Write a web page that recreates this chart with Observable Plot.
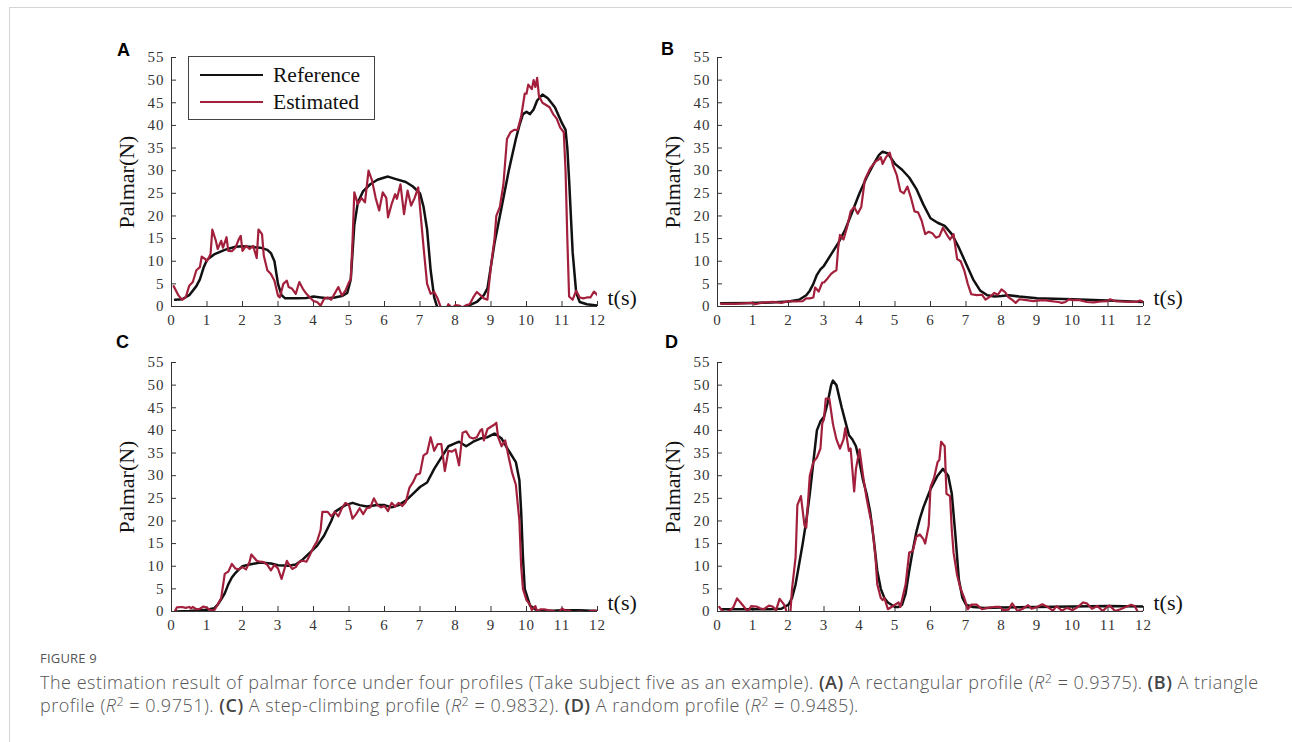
<!DOCTYPE html>
<html>
<head>
<meta charset="utf-8">
<script src="https://cdn.jsdelivr.net/npm/d3@7"></script>
<script src="https://cdn.jsdelivr.net/npm/@observablehq/plot@0.6"></script>
<style>
  body { margin: 0; background: #fff; }
  #fig { position: relative; width: 1292px; height: 742px; overflow: hidden; }
  .frame { position: absolute; left: 9px; top: 7px; right: -4px; bottom: -4px;
    border-top: 1.5px solid #d4d4d4; border-left: 1.5px solid #d4d4d4; }
  .panel { position: absolute; }
  g[aria-label$="tick label"] { letter-spacing: 1px; }
  .legend { position: absolute; left: 188px; top: 56px; width: 185px; height: 62px;
    border: 1px solid #444; background: #fff; font: 21.5px "Liberation Serif", serif; color: #111; }
  .legend .row { position: absolute; left: 11px; height: 26px; display: flex; align-items: center; }
  .legend .sw { width: 63px; height: 2.5px; margin-right: 10px; }
  .cap-head { position: absolute; left: 40px; top: 649px; font: 500 13px "Open Sans", sans-serif; letter-spacing: 0.2px; color: #555; }
  .cap { position: absolute; left: 40px; top: 671px; width: 1250px; font: 300 18px/23px "Open Sans", sans-serif; letter-spacing: 0.5px; color: #555; white-space: nowrap; }
  .cap b { font-weight: 600; color: #444; }
  .cap sup { font-size: 0.7em; line-height: 0; vertical-align: 0.5em; }
</style>
</head>
<body>
<div id="fig">
  <div class="frame"></div>
  <div class="panel" id="pa" style="left:100px;top:40px"></div>
  <div class="panel" id="pb" style="left:646px;top:40px"></div>
  <div class="panel" id="pc" style="left:100px;top:345px"></div>
  <div class="panel" id="pd" style="left:646px;top:345px"></div>
  <div class="legend">
    <div class="row" style="top:5px"><span class="sw" style="background:#111"></span>Reference</div>
    <div class="row" style="top:32px"><span class="sw" style="background:#a3203c"></span>Estimated</div>
  </div>
  <div class="cap-head">FIGURE 9</div>
  <div class="cap">The estimation result of palmar force under four profiles (Take subject five as an example). <b>(A)</b> A rectangular profile (<i>R</i><sup>2</sup> = 0.9375). <b>(B)</b> A triangle<br>profile (<i>R</i><sup>2</sup> = 0.9751). <b>(C)</b> A step-climbing profile (<i>R</i><sup>2</sup> = 0.9832). <b>(D)</b> A random profile (<i>R</i><sup>2</sup> = 0.9485).</div>
</div>
<script>
const xTicks = [0,1,2,3,4,5,6,7,8,9,10,11,12];
const yTicks = [0,5,10,15,20,25,30,35,40,45,50,55];

// [t (s), force (N)]
const refA = [[0.1,1.5],[0.3,1.6],[0.5,2.5],[0.7,4.5],[0.8,6],[0.9,8.5],[1.0,10.3],[1.2,11.5],[1.5,12.5],[1.8,13.2],[2.0,13.3],[2.5,13],[2.7,12.5],[2.8,11.8],[2.9,10],[3.0,5],[3.1,2.5],[3.2,1.8],[3.5,1.8],[3.8,1.9],[4.0,2.2],[4.2,2.0],[4.4,1.8],[4.6,2.0],[4.8,2.3],[4.95,3],[5.05,6],[5.1,12],[5.15,18],[5.25,23],[5.4,25.5],[5.6,27],[5.8,28],[6.0,28.5],[6.1,28.7],[6.3,28.2],[6.6,27.5],[6.8,26.5],[7.0,25],[7.1,22],[7.2,17],[7.3,8],[7.4,2],[7.5,-0.5],[7.8,-1.5],[8.1,-1],[8.3,-0.2],[8.4,0.3],[8.6,1],[8.8,2.5],[8.9,4],[9.0,9],[9.1,14],[9.2,18],[9.3,22],[9.5,30],[9.7,37],[9.8,40],[9.9,42.5],[10.0,43],[10.1,42.5],[10.2,43.5],[10.3,45.5],[10.45,46.8],[10.6,46],[10.8,44],[11.0,40.5],[11.1,39],[11.15,35],[11.2,28],[11.3,12],[11.4,3],[11.5,1],[11.7,0.5],[12.0,0.2]];
const estA = [[0.06,4.5],[0.2,2.4],[0.3,1.5],[0.4,2],[0.5,4.6],[0.6,5.4],[0.7,8],[0.8,8.7],[0.85,11],[0.95,10.5],[1.0,10],[1.1,11.6],[1.15,17],[1.25,14.5],[1.3,12.7],[1.4,14.5],[1.45,13],[1.55,15.3],[1.6,12.3],[1.7,12.2],[1.8,13],[1.9,14.9],[1.95,15.6],[2.0,12.3],[2.1,13.4],[2.2,12.7],[2.3,13.4],[2.4,10.7],[2.45,17],[2.55,16],[2.6,11.2],[2.7,8],[2.8,7.2],[2.9,5.7],[3.0,2.4],[3.05,2],[3.15,5],[3.25,5.7],[3.3,4.3],[3.4,3.9],[3.5,2.8],[3.6,5.4],[3.7,3.9],[3.8,2.8],[3.9,2],[4.0,1.2],[4.1,1],[4.2,0.2],[4.3,1.7],[4.4,2],[4.5,1.5],[4.6,2.9],[4.7,4.3],[4.8,2.4],[4.9,3.5],[5.0,5.4],[5.05,6],[5.1,14.5],[5.15,25.2],[5.25,22.6],[5.35,24],[5.45,23],[5.55,30],[5.65,27.8],[5.75,24],[5.85,21.2],[5.95,25.2],[6.05,24],[6.1,19.7],[6.2,22.6],[6.3,24.8],[6.35,23.8],[6.45,27],[6.55,20.4],[6.65,25.6],[6.75,22.3],[6.85,24],[6.95,26.3],[7.0,21.9],[7.1,13.1],[7.2,5],[7.3,2.8],[7.4,3.2],[7.5,1.7],[7.6,-0.5],[7.7,-1],[7.8,0.5],[7.9,-0.3],[8.0,0.3],[8.1,0.2],[8.2,-0.2],[8.3,0.3],[8.4,0.5],[8.5,2],[8.6,3.2],[8.7,2.5],[8.8,1.8],[8.9,1.5],[9.0,9],[9.1,15],[9.15,20],[9.25,22],[9.35,27],[9.45,37],[9.55,38.5],[9.65,39],[9.75,39],[9.85,42],[9.95,47],[10.0,47],[10.05,49],[10.15,48],[10.2,50],[10.25,48.5],[10.3,50.5],[10.35,46.5],[10.45,45],[10.55,44.5],[10.65,44],[10.75,42.5],[10.85,41.5],[10.95,39.5],[11.05,38.5],[11.1,30],[11.15,15],[11.2,2.2],[11.3,1.5],[11.4,3.5],[11.5,2],[11.6,1.8],[11.7,2],[11.8,2],[11.9,3.3],[12.0,2.5]];

const refB = [[0.1,0.7],[1.0,0.8],[1.5,0.9],[2.0,1.1],[2.3,1.5],[2.5,2.5],[2.6,3.5],[2.7,5],[2.8,7],[2.9,8.2],[3.0,9],[3.2,11.5],[3.4,14],[3.6,17],[3.8,21],[4.0,25],[4.2,28.5],[4.4,31.5],[4.55,33.5],[4.65,34.2],[4.8,33.8],[5.0,31.5],[5.2,30.2],[5.4,28.5],[5.6,26],[5.8,22.5],[6.0,19.5],[6.2,18.5],[6.4,17.8],[6.6,16],[6.8,13],[7.0,9.5],[7.2,6],[7.4,3.5],[7.6,2.5],[7.8,2.2],[8.0,2.3],[8.2,2.5],[8.5,2.2],[9.0,1.8],[10.0,1.6],[11.0,1.3],[12.0,1.0]];
const estB = [[0.1,0.6],[0.5,0.6],[1.0,0.8],[1.05,0.5],[1.3,0.9],[1.6,1.0],[1.8,0.8],[2.0,1.2],[2.2,1.1],[2.4,1.2],[2.5,1.8],[2.6,1.8],[2.7,2.0],[2.75,4.2],[2.85,3.3],[2.95,5.3],[3.0,5.3],[3.1,6.2],[3.2,7.2],[3.3,7.8],[3.35,8.0],[3.4,13],[3.45,15.8],[3.55,14.8],[3.65,17.5],[3.75,21],[3.85,22],[3.95,20.5],[4.05,22],[4.15,28],[4.3,30.5],[4.45,32],[4.55,32.5],[4.6,33],[4.65,31.5],[4.75,33],[4.85,34],[4.95,31],[5.05,29],[5.15,25.5],[5.25,25],[5.35,26.5],[5.45,24],[5.55,21],[5.65,20.8],[5.75,19],[5.85,16],[5.95,16.5],[6.05,16.2],[6.15,15.2],[6.25,15.5],[6.35,17.4],[6.45,16],[6.55,14.8],[6.65,16],[6.75,10.5],[6.85,10],[6.95,8],[7.05,5],[7.15,2.7],[7.3,2.5],[7.45,2.6],[7.55,1.5],[7.7,2.3],[7.8,3],[7.9,2.6],[8.0,3.8],[8.1,3.2],[8.2,2],[8.3,1.5],[8.4,0.8],[8.5,1.6],[8.7,1.4],[8.9,1.2],[9.0,1.3],[9.2,1.4],[9.4,1.2],[9.6,1.0],[9.7,0.8],[9.8,1.0],[9.9,1.6],[10.0,1.4],[10.2,1.4],[10.4,1.0],[10.6,0.9],[10.8,1.1],[11.0,1.2],[11.05,1.6],[11.2,1.2],[11.4,1.1],[11.6,1.0],[11.8,1.0],[11.9,1.3],[12.0,1.0]];

const refC = [[0.1,0],[0.5,0.1],[1.0,0.4],[1.2,0.7],[1.3,1.5],[1.4,2.7],[1.5,4],[1.6,6],[1.7,7.5],[1.8,8.5],[1.9,9.3],[2.0,10],[2.2,10.4],[2.5,10.8],[2.8,10.6],[3.0,10.2],[3.3,10.1],[3.5,10.4],[3.7,11.5],[3.9,13],[4.1,14.5],[4.3,16.8],[4.5,20],[4.6,22],[4.7,22.5],[4.9,23.5],[5.1,24],[5.3,23.5],[5.5,23.2],[5.8,23.5],[6.0,23.5],[6.2,23],[6.4,23.5],[6.6,24.5],[6.8,26],[7.0,27.5],[7.2,28.5],[7.4,31.5],[7.6,34],[7.8,36.5],[8.0,37.2],[8.1,37.5],[8.3,36.5],[8.5,37.5],[8.7,38.2],[8.9,38.5],[9.1,39.3],[9.3,38.2],[9.5,35.5],[9.7,33],[9.8,29],[9.85,22],[9.9,12],[9.95,5],[10.1,1.3],[10.3,0.2],[10.6,0.1],[11.0,0.3],[11.5,0.3],[12.0,0.1]];
const estC = [[0.1,0.1],[0.15,0.9],[0.3,1.0],[0.4,0.8],[0.5,1.0],[0.55,0.7],[0.6,1.0],[0.7,0.5],[0.8,0.6],[0.9,1.1],[1.0,0.8],[1.1,0.3],[1.2,0.2],[1.3,1.5],[1.4,3],[1.5,8.3],[1.6,8.8],[1.7,10.5],[1.8,9.5],[1.9,9.3],[2.0,9.8],[2.1,9.3],[2.2,11],[2.25,12.6],[2.4,11.2],[2.5,11],[2.6,10.9],[2.7,10.3],[2.8,9.1],[2.9,10.3],[3.0,9.5],[3.1,7.2],[3.25,11.2],[3.3,10.5],[3.4,9.4],[3.5,9.8],[3.6,11],[3.7,11.2],[3.8,11],[3.9,12.5],[4.0,14.2],[4.1,15.5],[4.2,18],[4.25,22],[4.4,22],[4.5,21],[4.6,22],[4.7,21],[4.8,22.8],[4.9,24],[5.0,23.5],[5.1,20.5],[5.2,21.5],[5.3,22.8],[5.4,21.5],[5.5,22.8],[5.6,23],[5.7,25],[5.8,23.5],[5.9,23],[6.0,23.3],[6.1,22.2],[6.2,24],[6.3,23.2],[6.4,24],[6.5,23.3],[6.6,24.2],[6.7,27.3],[6.8,28.5],[6.9,30.2],[7.0,30.5],[7.1,34.5],[7.2,35],[7.3,38.5],[7.4,35.5],[7.5,37],[7.6,37],[7.7,31],[7.8,35.5],[7.9,35.3],[8.0,35.8],[8.1,32.3],[8.2,39.5],[8.3,39.8],[8.4,38.5],[8.5,38.2],[8.6,38.5],[8.7,40],[8.75,40.3],[8.8,37.8],[8.9,40.3],[9.0,40.8],[9.1,41.3],[9.15,41.7],[9.2,38.5],[9.3,36.5],[9.4,37.8],[9.5,34],[9.6,30.5],[9.7,28],[9.8,20],[9.85,10],[9.9,5],[10.0,2.5],[10.1,1.5],[10.15,0.3],[10.25,1.2],[10.3,0],[10.4,0.5],[10.5,0.5],[10.6,0.3],[10.7,0.2],[10.8,0],[10.9,-0.3],[11.0,0.7],[11.1,0.2],[11.2,0.2],[11.3,-0.2],[11.5,0],[11.7,-0.2],[11.8,0.1],[11.9,0.2],[12.0,0.1]];

const refD = [[0.1,0.5],[1.0,0.5],[1.5,0.5],[1.8,0.6],[2.0,1.5],[2.1,3],[2.2,6],[2.3,10.5],[2.4,15],[2.5,20],[2.6,26],[2.7,33],[2.8,40],[2.9,42],[3.0,43],[3.1,46],[3.2,50],[3.25,51],[3.35,50],[3.5,45],[3.6,42],[3.7,39],[3.8,38],[3.9,36.5],[4.0,33],[4.1,29],[4.2,26],[4.3,22],[4.4,16],[4.5,9],[4.6,5],[4.7,3],[4.8,2],[5.0,1],[5.1,1.0],[5.2,1.5],[5.3,4],[5.4,9],[5.5,13.5],[5.6,17.5],[5.7,20.5],[5.8,23],[5.9,25],[6.0,27],[6.2,30],[6.35,31.5],[6.5,30],[6.6,26],[6.7,17],[6.8,7],[6.9,3],[7.0,1.5],[7.2,1.0],[7.5,0.8],[8.0,0.9],[9.0,1.0],[10.0,1.1],[11.0,1.2],[12.0,1.1]];
const estD = [[0.05,1.0],[0.1,0.5],[0.2,-0.3],[0.35,0.2],[0.45,1],[0.55,2.9],[0.7,1.5],[0.85,0],[0.95,1.2],[1.1,1.1],[1.2,0.7],[1.3,0.5],[1.45,1.3],[1.55,1.1],[1.65,0.3],[1.75,2.8],[1.85,1.8],[1.9,1.2],[1.95,-0.3],[2.05,-0.5],[2.1,5],[2.2,12],[2.25,23.5],[2.35,25.5],[2.45,19],[2.5,18.5],[2.6,30],[2.7,33],[2.8,34],[2.9,36],[2.95,41.5],[3.0,42.5],[3.05,47],[3.15,47],[3.25,41.5],[3.35,38],[3.45,36],[3.55,38],[3.6,40.5],[3.7,35.5],[3.75,36],[3.85,26.5],[3.9,31.5],[4.0,35.8],[4.1,30],[4.2,25],[4.3,21],[4.35,19.5],[4.45,12],[4.5,6],[4.6,3],[4.65,2.5],[4.7,3],[4.8,0.5],[4.9,1],[5.0,1.5],[5.1,2],[5.15,1],[5.3,6],[5.4,13],[5.5,13.3],[5.6,16.5],[5.7,17],[5.8,16],[5.85,15],[5.95,19],[6.0,27.5],[6.1,29.5],[6.2,33],[6.25,33.5],[6.3,37.5],[6.4,36.5],[6.45,26],[6.55,25.5],[6.6,18],[6.65,13],[6.75,8],[6.85,5],[6.95,3],[7.05,0.5],[7.15,1.5],[7.3,1.5],[7.45,0.5],[7.6,0.8],[7.8,1],[7.95,1.0],[8.05,0.3],[8.2,0.4],[8.3,1.8],[8.45,0.1],[8.6,0.6],[8.75,1.4],[8.85,0.6],[9.0,1],[9.15,1.6],[9.3,1.0],[9.45,0.2],[9.55,1.2],[9.7,0.2],[9.85,0.8],[10.0,0.3],[10.15,1.0],[10.3,2.0],[10.4,1.8],[10.55,0.6],[10.7,1.2],[10.85,0.1],[11.0,1.2],[11.05,1.3],[11.2,0.1],[11.35,0.5],[11.5,1.0],[11.65,1.5],[11.75,1.2],[11.85,-0.2],[12.0,0]];

const serif = "Liberation Serif, Times New Roman, serif";
const red = "#a3203c";

function panel(ref, est, letter, ldx, ldy) {
  return Plot.plot({
    width: 546, height: 296,
    marginLeft: 71, marginRight: 49, marginTop: 17, marginBottom: 30,
    style: {background: "transparent", overflow: "visible"},
    x: {domain: [0, 12]},
    y: {domain: [0, 55]},
    marks: [
      Plot.axisX({ticks: xTicks, tickSize: 0, tickPadding: 8, label: null, fontSize: 15, fontFamily: serif, fill: "#333"}),
      Plot.axisY({ticks: yTicks, tickSize: 0, tickPadding: 7, label: null, fontSize: 15, fontFamily: serif, fill: "#333"}),
      Plot.tickX(xTicks, {x: d => d, insetTop: 244, stroke: "#333"}),
      Plot.tickY(yTicks, {y: d => d, insetRight: 421, stroke: "#333"}),
      Plot.ruleY([0], {stroke: "#333"}),
      Plot.ruleX([0], {stroke: "#333"}),
      Plot.line(ref, {x: d => d[0], y: d => d[1], stroke: "#111", strokeWidth: 2.5, clip: true}),
      Plot.line(est, {x: d => d[0], y: d => d[1], stroke: red, strokeWidth: 2.2, clip: true}),
      Plot.text(["Palmar(N)"], {frameAnchor: "left", rotate: -90, dx: -45, textAnchor: "middle", lineAnchor: "middle", fontSize: 22, fontFamily: serif, fill: "#111"}),
      Plot.text(["t(s)"], {x: () => 12, y: () => 0, dx: 10, dy: -9, textAnchor: "start", fontSize: 22, fontFamily: serif, fill: "#111"}),
      Plot.text([letter], {frameAnchor: "top-left", dx: ldx, dy: ldy, textAnchor: "middle", lineAnchor: "middle", fontSize: 18, fontWeight: "bold", fontFamily: "Liberation Sans, Arial, sans-serif", fill: "#000"})
    ]
  });
}

d3.select("#pa").append(() => panel(refA, estA, "A", -48, -7));
d3.select("#pb").append(() => panel(refB, estB, "B", -50, -8));
d3.select("#pc").append(() => panel(refC, estC, "C", -49, -20));
d3.select("#pd").append(() => panel(refD, estD, "D", -46, -20));
</script>
</body>
</html>
